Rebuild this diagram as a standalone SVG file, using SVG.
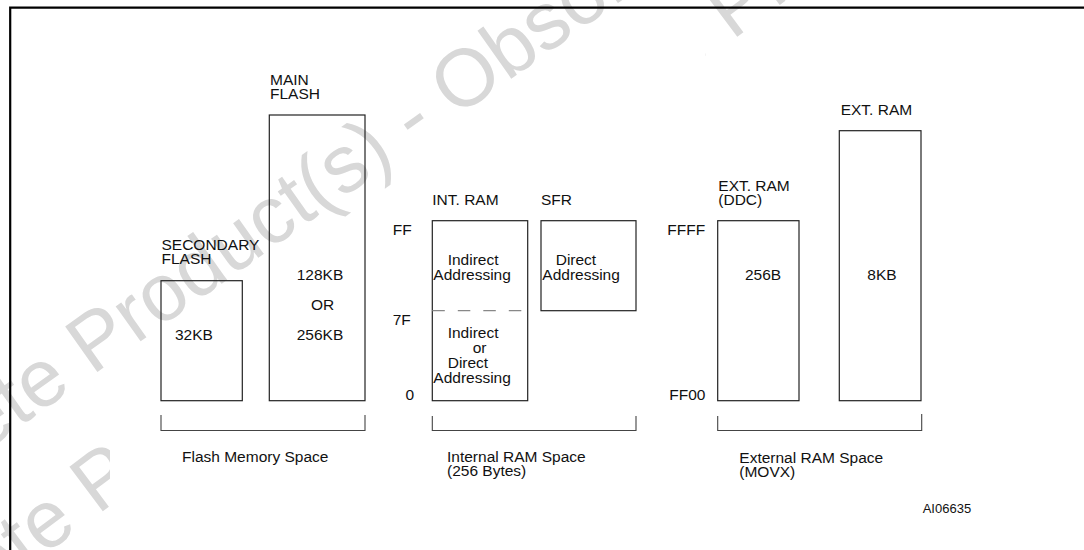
<svg xmlns="http://www.w3.org/2000/svg" width="1084" height="550" viewBox="0 0 1084 550">
<defs>
<style>
.wm{font-family:"Liberation Sans",Arial,sans-serif;font-size:81px;fill:#d8d8d8}
.t{font-family:"Liberation Sans",Arial,sans-serif;font-size:15.5px;fill:#111}
.s{font-family:"Liberation Sans",Arial,sans-serif;font-size:13px;fill:#111}
.box{fill:none;stroke:#222;stroke-width:1.2}
.br{fill:none;stroke:#444;stroke-width:1.1}
.frame{fill:none;stroke:#000;stroke-width:2.2}
</style>
<clipPath id="wm2clip" clipPathUnits="userSpaceOnUse">
<rect x="0" y="0" width="110" height="550"/>
<rect x="705" y="0" width="379" height="550"/>
</clipPath>
</defs>
<rect x="0" y="0" width="1084" height="550" fill="#fff"/>
<g id="watermark">
<g clip-path="url(#wm2clip)">
<text class="wm" transform="translate(-180,723) rotate(-36.8)">Obsolete Product(s) - Obsolete Product(s)</text>
</g>
<text class="wm" transform="translate(-191,576) rotate(-35.3)">Obsolete Product(s) - Obsolete Product(s)</text>
</g>
<path class="frame" d="M10.2,550 V7.7 H1084"/>
<g id="connectors">
<path class="br" d="M161,415 V430.5 H365 V415"/>
<path class="br" d="M432.3,416 V430.5 H636 V416"/>
<path class="br" d="M717.7,416 V430.5 H921.7 V414"/>
</g>
<g id="secondary-flash">
<text class="t" x="161.5" y="250">SECONDARY</text>
<text class="t" x="161.5" y="264.3">FLASH</text>
<rect class="box" x="161" y="280.7" width="81.3" height="120"/>
<text class="t" x="175" y="340">32KB</text>
</g>
<g id="main-flash">
<text class="t" x="270" y="85">MAIN</text>
<text class="t" x="270" y="99.3">FLASH</text>
<rect class="box" x="269.3" y="115" width="95.7" height="285.7"/>
<text class="t" x="296.7" y="280">128KB</text>
<text class="t" x="311" y="310">OR</text>
<text class="t" x="296.7" y="340">256KB</text>
</g>
<g id="flash-label">
<text class="t" x="182" y="462">Flash Memory Space</text>
</g>
<g id="int-ram">
<text class="t" x="432.3" y="205">INT. RAM</text>
<text class="t" x="392.7" y="235">FF</text>
<text class="t" x="392.7" y="325">7F</text>
<text class="t" x="405.5" y="400">0</text>
<rect class="box" x="432.3" y="220.7" width="95.4" height="180"/>
<line x1="432.3" y1="310.7" x2="527.7" y2="310.7" stroke="#888" stroke-width="1.2" stroke-dasharray="12.5,13"/>
<text class="t" x="447.7" y="265">Indirect</text>
<text class="t" x="433.3" y="280">Addressing</text>
<text class="t" x="447.7" y="338.3">Indirect</text>
<text class="t" x="472.7" y="353.3">or</text>
<text class="t" x="447.7" y="368.3">Direct</text>
<text class="t" x="433.3" y="383">Addressing</text>
</g>
<g id="sfr">
<text class="t" x="541" y="205">SFR</text>
<rect class="box" x="541" y="220.7" width="95" height="90"/>
<text class="t" x="555.7" y="265">Direct</text>
<text class="t" x="542.3" y="280">Addressing</text>
</g>
<g id="int-label">
<text class="t" x="447" y="462">Internal RAM Space</text>
<text class="t" x="447" y="476">(256 Bytes)</text>
</g>
<g id="ext-ram-ddc">
<text class="t" x="718.3" y="190.7">EXT. RAM</text>
<text class="t" x="718.3" y="204.5">(DDC)</text>
<text class="t" x="667.3" y="235">FFFF</text>
<text class="t" x="669.3" y="400">FF00</text>
<rect class="box" x="717.7" y="220.7" width="81.3" height="180"/>
<text class="t" x="745" y="280">256B</text>
</g>
<g id="ext-ram">
<text class="t" x="840.7" y="115">EXT. RAM</text>
<rect class="box" x="839.3" y="130.7" width="81.7" height="270"/>
<text class="t" x="867.3" y="280">8KB</text>
</g>
<g id="ext-label">
<text class="t" x="739.3" y="462.7">External RAM Space</text>
<text class="t" x="739.3" y="476.5">(MOVX)</text>
</g>
<text class="s" x="922.7" y="513.3">AI06635</text>
</svg>
